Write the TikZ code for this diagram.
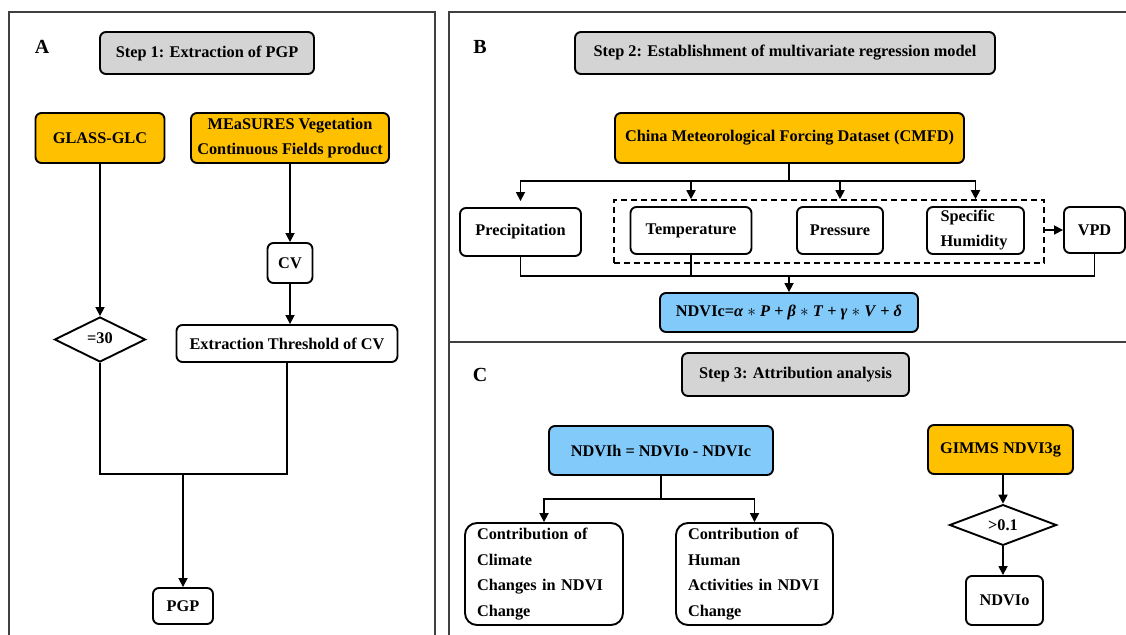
\documentclass[tikz,border=0pt]{standalone}
\usepackage{fontspec}
\setmainfont{Liberation Serif}
\usetikzlibrary{arrows.meta,shapes.geometric}
\definecolor{orangebox}{RGB}{255,192,0}
\definecolor{graybox}{RGB}{212,212,212}
\definecolor{bluebox}{RGB}{130,202,250}
\definecolor{framecol}{RGB}{64,64,64}
\begin{document}
\begin{tikzpicture}[x=1pt,y=-1pt,
  every node/.style={font=\fontsize{16.3}{25}\selectfont\bfseries},
  box/.style={draw=black, rounded corners=6pt, line width=1.9pt, inner sep=0pt, align=center, fill=white},
  stepbox/.style={box, fill=graybox},
  srcbox/.style={box, fill=orangebox},
  eqbox/.style={box, fill=bluebox},
  decision/.style={draw=black, shape=diamond, line width=1.9pt, inner sep=0pt, fill=white},
  conn/.style={draw=black, line width=1.7pt},
  arr/.style={conn, -{Triangle[length=9pt,width=9pt]}},
  frame/.style={draw=framecol, line width=1.6pt},
  panellabel/.style={font=\fontsize{20}{24}\selectfont\bfseries}
]
\path[use as bounding box, clip] (0,0) rectangle (1126,634);
\fill[white] (0,0) rectangle (1126,634);

% frames
\draw[frame] (9,12) rectangle (435,645);
\draw[frame] (449,12) rectangle (1140,645);
\draw[frame] (449,342) -- (1140,342);

% panel labels
\node[panellabel] (la) at (42,47) {A};
\node[panellabel] (lb) at (480,47) {B};
\node[panellabel] (lc) at (480,375) {C};

% ---------- Panel A ----------
\node[stepbox, minimum width=214pt, minimum height=42pt] (step1) at (207,53) {Step 1: Extraction of PGP};
\node[srcbox, minimum width=129pt, minimum height=50pt] (glass) at (100,138) {GLASS-GLC};
\node[srcbox, minimum width=198pt, minimum height=50pt] (meas) at (290,138) {MEaSURES Vegetation\\Continuous Fields product};
\node[box, minimum width=45pt, minimum height=40pt] (cv) at (290,263) {CV};
\node[box, minimum width=221pt, minimum height=37pt] (thr) at (287,343.5) {Extraction Threshold of CV};
\node[decision, minimum width=91pt, minimum height=45pt] (d30) at (100,339.5) {\raisebox{2pt}{=30}};
\node[box, minimum width=60pt, minimum height=36pt] (pgp) at (183,606) {PGP};

\draw[arr] (glass.south) -- (d30.north);
\draw[arr] (meas.south -| cv.north) -- (cv.north);
\draw[arr] (cv.south) -- (cv.south |- thr.north);
\coordinate (ja) at (183,474);
\draw[conn] (d30.south) |- (ja) -| (thr.south);
\draw[arr] (ja) -- (pgp.north);

% ---------- Panel B ----------
\node[stepbox, minimum width=420pt, minimum height=42pt] (step2) at (785,53) {Step 2: Establishment of multivariate regression model};
\node[srcbox, minimum width=349pt, minimum height=50pt] (cmfd) at (789.5,138) {China Meteorological Forcing Dataset (CMFD)};
\node[draw=black, dashed, dash pattern=on 6pt off 4pt, line width=1.6pt, minimum width=430pt, minimum height=63pt, inner sep=0pt] (dbox) at (829,231.5) {};
\node[box, minimum width=121pt, minimum height=48pt] (prec) at (520.5,232) {Precipitation};
\node[box, minimum width=121pt, minimum height=47pt] (temp) at (691,230.5) {Temperature};
\node[box, minimum width=86pt, minimum height=47pt] (pres) at (840,230.5) {Pressure};
\node[box, minimum width=97pt, minimum height=47pt, text width=70pt, align=left] (spec) at (975.5,230.5) {Specific\\Humidity};
\node[box, minimum width=61pt, minimum height=46pt] (vpd) at (1094.5,230) {VPD};
\node[eqbox, minimum width=258pt, minimum height=39pt] (ndvic) at (789,312.5) {NDVIc=\textit{α} $\ast$ \textit{P} + \textit{β} $\ast$ \textit{T} + \textit{γ} $\ast$ \textit{V} + \textit{δ}};

\coordinate (bus) at (789,181);
\draw[conn] (cmfd.south -| bus) -- (bus);
\draw[arr, shorten >=6pt] (bus) -| (prec.north);
\draw[arr] (bus) -| (temp.north |- dbox.north);
\draw[arr] (bus) -| (pres.north |- dbox.north);
\draw[arr] (bus) -| (spec.north |- dbox.north);
\draw[arr] (dbox.east |- vpd.west) -- (vpd.west);
\coordinate (bot) at (789,276);
\draw[conn] (prec.south) |- (bot) -| (vpd.south);
\draw[conn] (temp.south) -- (temp.south |- bot);
\draw[arr] (bot) -- (ndvic.north);

% ---------- Panel C ----------
\node[stepbox, minimum width=227pt, minimum height=43pt] (step3) at (795.5,374.5) {Step 3: Attribution analysis};
\node[eqbox, minimum width=224pt, minimum height=49pt] (ndvih) at (661,450.5) {NDVIh = NDVIo - NDVIc};
\node[box, rounded corners=12pt, minimum width=158pt, minimum height=102pt, text width=134pt, align=left, font=\fontsize{16.3}{25.7}\selectfont\bfseries] (clim) at (544,574) {Contribution of\\Climate\\Changes in NDVI\\Change};
\node[box, rounded corners=12pt, minimum width=157pt, minimum height=102pt, text width=133pt, align=left, font=\fontsize{16.3}{25.7}\selectfont\bfseries] (hum) at (754.5,574) {Contribution of\\Human\\Activities in NDVI\\Change};
\node[srcbox, minimum width=145pt, minimum height=49pt] (gimms) at (1000.5,449.5) {GIMMS NDVI3g};
\node[decision, minimum width=107pt, minimum height=36pt] (d01) at (1003,525) {>0.1};
\node[box, minimum width=77pt, minimum height=49pt] (ndvio) at (1004.5,600.5) {NDVIo};

\coordinate (bus3) at (661,499);
\draw[conn] (ndvih.south) -- (bus3);
\draw[arr] (bus3) -| (clim.north);
\draw[arr] (bus3) -| (hum.north);
\draw[arr] (d01.north |- gimms.south) -- (d01.north);
\draw[arr] (d01.south) -- (d01.south |- ndvio.north);
\end{tikzpicture}
\end{document}
